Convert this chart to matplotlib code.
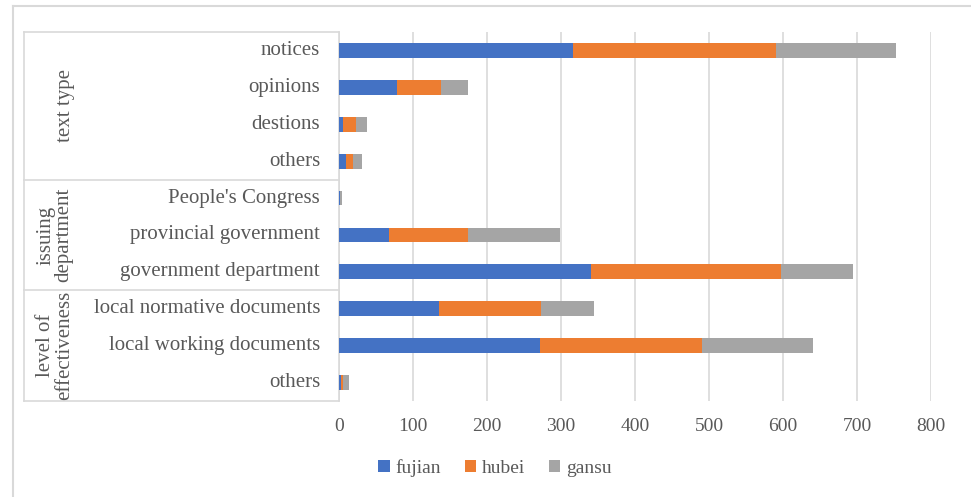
import numpy as np
import matplotlib.pyplot as plt
from matplotlib.lines import Line2D

# category rows, top to bottom
categories = ["notices", "opinions", "destions", "others",
              "People's Congress", "provincial government", "government department",
              "local normative documents", "local working documents", "others"]
groups = ["text type", "issuing\ndepartment", "level of\neffectiveness"]
group_sizes = [4, 3, 3]

fujian = [316, 78, 6, 9, 1, 68, 341, 135, 272, 3]
hubei = [274, 60, 17, 10, 1, 106, 256, 138, 218, 3]
gansu = [163, 36, 15, 12, 2, 125, 98, 72, 150, 7]

series_names = ["fujian", "hubei", "gansu"]
colors = ["#4472C4", "#ED7D31", "#A5A5A5"]
text_color = "#595959"
line_color = "#D9D9D9"

plt.rcParams["font.family"] = ["Liberation Serif", "DejaVu Serif"]

fig = plt.figure(figsize=(9.71, 4.97), dpi=100)
ax = fig.add_axes([339 / 971, 1 - 401 / 497, 592 / 971, 369 / 497])

y = np.arange(len(categories))
left = np.zeros(len(categories))
for name, vals, c in zip(series_names, [fujian, hubei, gansu], colors):
    ax.barh(y, vals, left=left, height=0.4, color=c, label=name, zorder=3)
    left += np.array(vals)

ax.set_xlim(0, 800)
ax.set_ylim(len(categories) - 0.5, -0.5)
ax.set_xticks(range(0, 801, 100))
ax.tick_params(axis="x", length=0, labelsize=14, labelcolor=text_color, pad=12)
ax.set_yticks([])
ax.grid(axis="x", color=line_color, linewidth=1.2, zorder=0)
for s in ["top", "right", "bottom"]:
    ax.spines[s].set_visible(False)
ax.spines["left"].set_color(line_color)
ax.spines["left"].set_linewidth(1.2)

# category labels and the multi-level box on the left
trans = ax.get_yaxis_transform()
box_left = -315 / 592
for i, cat in enumerate(categories):
    ax.text(-19 / 592, i, cat, transform=trans, ha="right", va="center",
            fontsize=15, color=text_color)

bounds = np.concatenate([[0], np.cumsum(group_sizes)]) - 0.5
for b in bounds:
    ax.add_line(Line2D([box_left, 0], [b, b], transform=trans, color=line_color,
                       linewidth=1.2, clip_on=False))
ax.add_line(Line2D([box_left, box_left], [bounds[0], bounds[-1]], transform=trans,
                   color=line_color, linewidth=1.2, clip_on=False))

for g, lo, hi in zip(groups, bounds[:-1], bounds[1:]):
    gx = -274 / 592 if "\n" not in g else -284 / 592
    ax.text(gx, (lo + hi) / 2, g, transform=trans, rotation=90, ha="center",
            va="center", fontsize=15, color=text_color, linespacing=0.95)

# outer frame
fig.add_artist(Line2D([13 / 971, 13 / 971], [0, 1 - 6 / 497], color=line_color, linewidth=1.5))
fig.add_artist(Line2D([13 / 971, 1], [1 - 6 / 497, 1 - 6 / 497], color=line_color, linewidth=1.5))

leg = fig.legend(loc="center", bbox_to_anchor=(495 / 971, 1 - 468 / 497), ncol=3,
                 frameon=False, fontsize=14, handlelength=0.6, handleheight=0.6,
                 handletextpad=0.3, columnspacing=1.2)
for t in leg.get_texts():
    t.set_color(text_color)

fig.savefig("out.png", dpi=100)
